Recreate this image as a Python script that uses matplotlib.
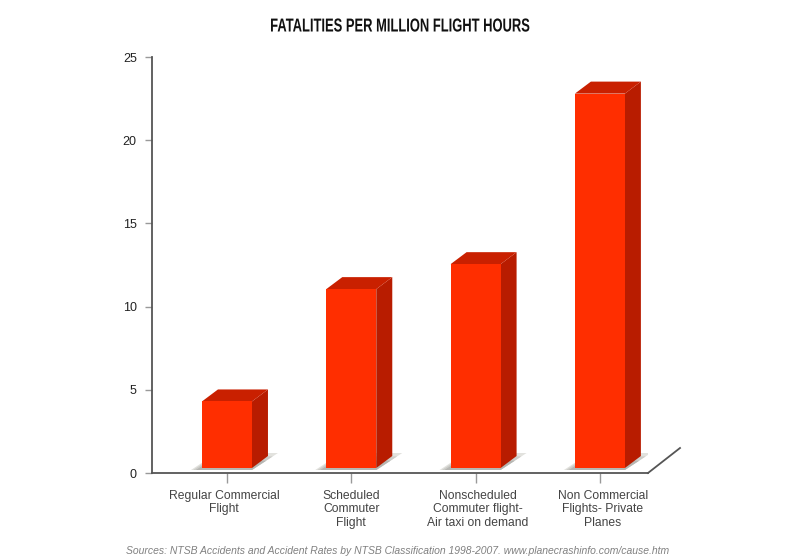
import matplotlib
matplotlib.use('Agg')
import matplotlib.pyplot as plt
from matplotlib.patches import Polygon
from matplotlib.patheffects import AbstractPathEffect
from matplotlib.transforms import Affine2D, ScaledTranslation

categories = ['Regular Commercial\nFlight', 'Scheduled\nCommuter\nFlight',
              'Nonscheduled\nCommuter flight-\nAir taxi on demand',
              'Non Commercial\nFlights- Private\nPlanes']
values = [4.3, 11.05, 12.55, 22.8]
yticks = [0, 5, 10, 15, 20, 25]

title = 'FATALITIES PER MILLION FLIGHT HOURS'
source = 'Sources: NTSB Accidents and Accident Rates by NTSB Classification 1998-2007. www.planecrashinfo.com/cause.htm'

plt.rcParams['font.family'] = ['Liberation Sans', 'DejaVu Sans']


# no condensed bold font here, so squeeze the title sideways
class Squeeze(AbstractPathEffect):
    def __init__(self, k, cx):
        super().__init__()
        self.k = k
        self.cx = cx

    def draw_path(self, renderer, gc, tpath, affine, rgbFace=None):
        t = affine + Affine2D().translate(-self.cx, 0).scale(self.k, 1).translate(self.cx, 0)
        renderer.draw_path(gc, tpath, t, rgbFace)


fig = plt.figure(figsize=(8, 5.6), dpi=100)
ax = fig.add_axes([152 / 800, 87 / 560, 496 / 800, 416 / 560])
ax.set_xlim(-0.603, 3.387)
ax.set_ylim(0, 25)

# sizes of the fake 3d, px converted to data units
ux = 1 / 124.3
uy = 1 / 16.64
w = 50 * ux
dx = 16 * ux
dy = 12 * uy
base = 5 * uy
xs = range(len(values))

for x, v in zip(xs, values):
    l, r = x - w / 2, x + w / 2
    # floor shadow, a few layers so it fades outwards
    for grow, col in [(1.0, '#e2e2de'), (0.8, '#cdcdc9'), (0.55, '#b6b6b2')]:
        sx = 26 * grow * ux
        sy = 17 * grow * uy
        ax.add_patch(Polygon([(l - 11 * grow * ux, base - 2 * uy), (r, base - 2 * uy),
                              (r + sx, base - 2 * uy + sy), (l + sx - 11 * grow * ux, base - 2 * uy + sy)],
                             fc=col, ec='none', zorder=1))
    ax.add_patch(Polygon([(r, base), (r + dx, base + dy), (r + dx, v + dy), (r, v)],
                         fc='#b81c00', ec='none', zorder=2))
    ax.add_patch(Polygon([(l, v), (r, v), (r + dx, v + dy), (l + dx, v + dy)],
                         fc='#c92000', ec='none', zorder=2))

ax.bar(list(xs), [v - base for v in values], width=w, bottom=base, color='#ff2e00', zorder=3)

for s in ['top', 'right']:
    ax.spines[s].set_visible(False)
for s in ['left', 'bottom']:
    ax.spines[s].set_color('#555555')
    ax.spines[s].set_linewidth(1.3)

# floor edge going back
ax.plot([3.387, 3.387 + 32 * ux], [0, 25 * uy], color='#555555', lw=1.3, clip_on=False, zorder=4)

ax.set_yticks(yticks)
ax.set_xticks(list(xs))
ax.set_xticklabels(categories, fontsize=8.75, color='#444444', linespacing=1.2)
ax.tick_params(axis='y', labelsize=9, labelcolor='#222222', color='#999999', length=5, width=1, pad=6)
ax.tick_params(axis='x', color='#999999', length=7, width=1, pad=5)

# labels are not quite centred under their ticks in the original
label_shift = [-3, 0, 2, 3]
for lab, px in zip(ax.get_xticklabels(), label_shift):
    lab.set_transform(lab.get_transform() + ScaledTranslation(px / 100, 0, fig.dpi_scale_trans))

t = fig.text(0.5, 1 - 27 / 560, title, ha='center', va='center', fontsize=13.5, fontweight='bold',
             color='#111111')
t.set_path_effects([Squeeze(0.69, 400)])
fig.text(398 / 800, 1 - 551 / 560, source, ha='center', va='center', fontsize=7.5,
         style='italic', color='#808080')

fig.savefig('out.png', dpi=100)
